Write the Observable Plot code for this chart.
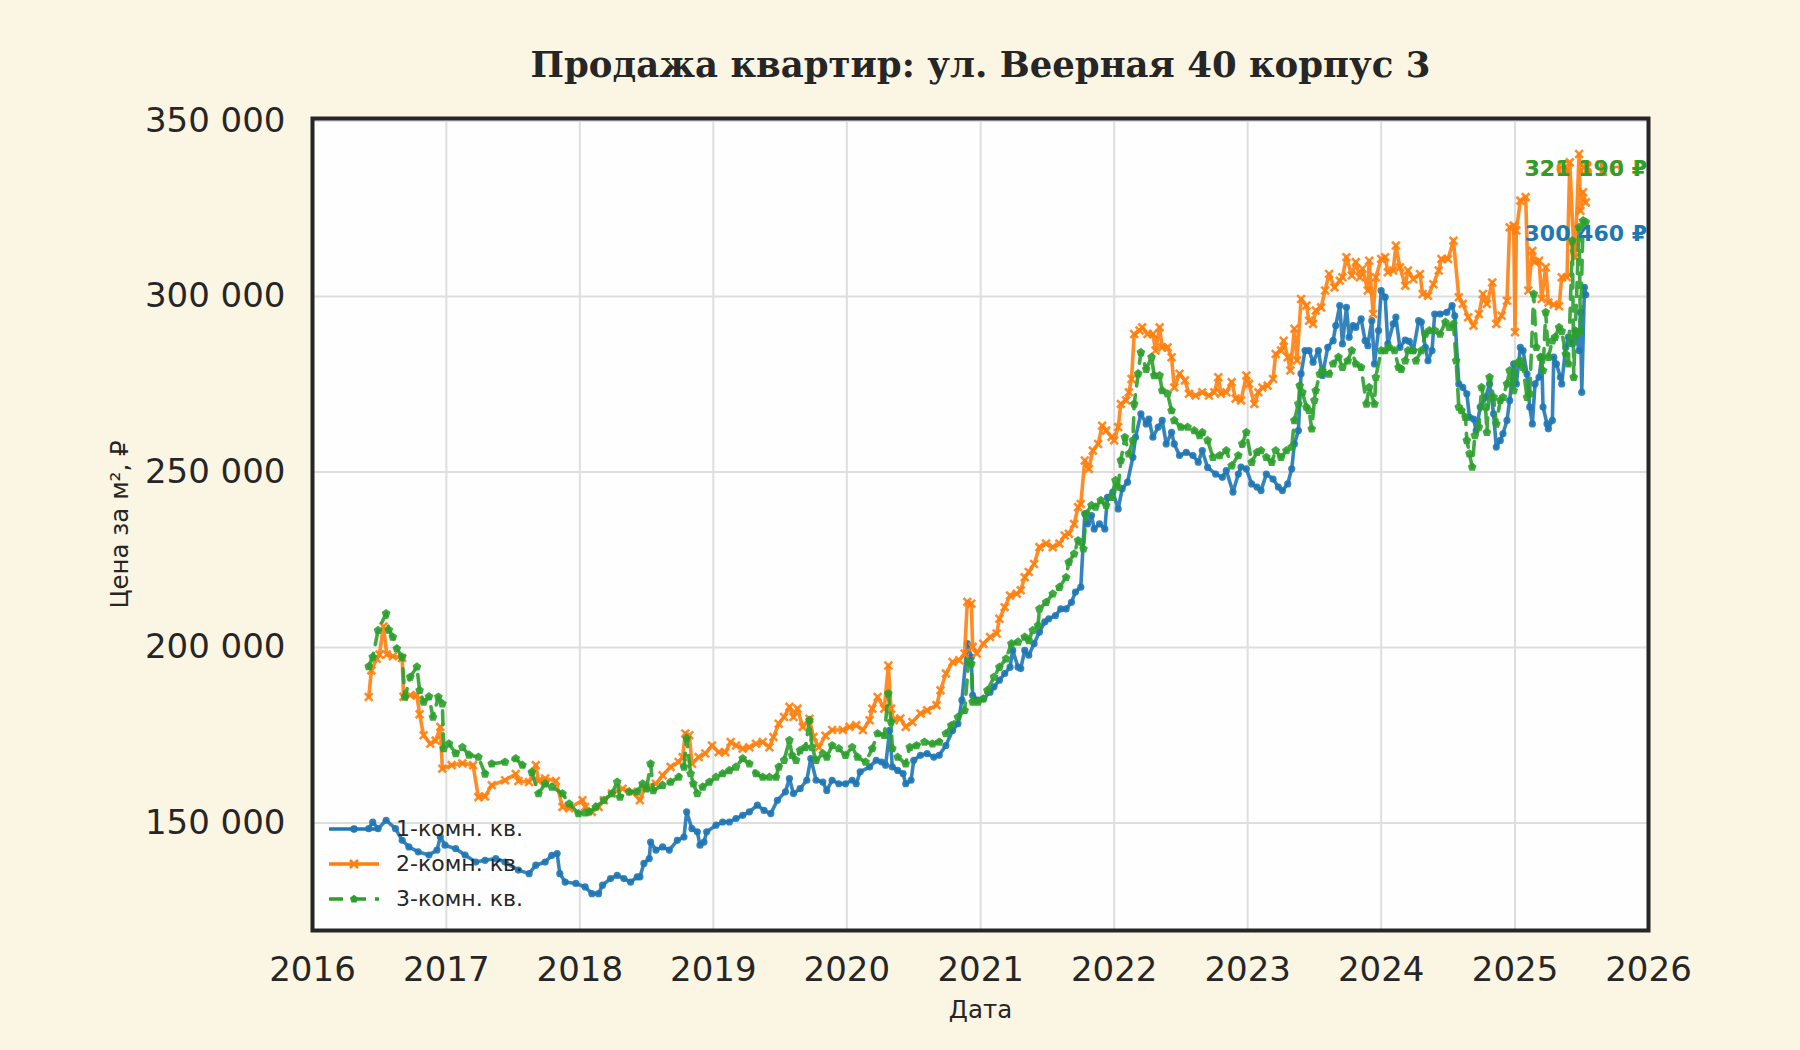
<!DOCTYPE html>
<html><head><meta charset="utf-8">
<script src="https://cdn.jsdelivr.net/npm/d3@7"></script>
<script src="https://cdn.jsdelivr.net/npm/@observablehq/plot@0.6"></script>
<style>
html,body{margin:0;padding:0;background:#fbf5e3;}
#wrap{position:relative;width:1800px;height:1050px;font-family:"DejaVu Sans",sans-serif;color:#262626;}
#legend{position:absolute;left:329px;top:811px;}
.row{display:flex;align-items:center;height:35px;}
.row span{font-size:22px;margin-left:17px;color:#262626;}
</style></head>
<body><div id="wrap"><div id="chart"></div><div id="legend"></div></div>
<script>
const title = "Продажа квартир: ул. Веерная 40 корпус 3";
const yLabel = "Цена за м², ₽";
const xLabel = "Дата";
const names = ["1-комн. кв.", "2-комн. кв.", "3-комн. кв."];
const colors = ["#1f77b4", "#ff7f0e", "#2ca02c"];
const xTicks = [2016,2017,2018,2019,2020,2021,2022,2023,2024,2025,2026];
const yTicks = [150000,200000,250000,300000,350000];
const labelY = [317800, 336300, 336300];

// [decimal year, price in thousand ₽]
const room1 = [[2016.42,148.4],[2016.45,150.3],[2016.49,148.4],[2016.55,150.8],[2016.62,148.4],[2016.67,145.1],[2016.72,143.2],[2016.79,141.8],[2016.87,140.9],[2016.93,142.3],[2016.955,146.1],[2016.99,143.7],[2017.07,142.7],[2017.14,140.9],[2017.22,138.9],[2017.29,139.4],[2017.37,139.9],[2017.44,138.9],[2017.54,136.6],[2017.62,135.6],[2017.67,138.0],[2017.74,138.9],[2017.79,140.8],[2017.83,141.3],[2017.85,135.6],[2017.89,133.2],[2017.97,132.8],[2018.04,131.8],[2018.09,129.9],[2018.14,129.9],[2018.17,132.3],[2018.23,134.2],[2018.28,135.1],[2018.33,134.2],[2018.38,133.2],[2018.43,134.7],[2018.45,134.7],[2018.48,138.5],[2018.52,139.9],[2018.53,144.6],[2018.57,142.3],[2018.62,143.2],[2018.67,142.3],[2018.73,145.1],[2018.78,146.0],[2018.80,153.2],[2018.84,148.4],[2018.88,147.5],[2018.90,143.7],[2018.93,144.6],[2018.95,147.5],[2019.02,149.4],[2019.07,150.3],[2019.12,150.3],[2019.17,151.3],[2019.22,152.2],[2019.27,153.2],[2019.33,155.1],[2019.38,153.6],[2019.43,152.7],[2019.48,156.5],[2019.54,158.9],[2019.57,162.7],[2019.60,158.4],[2019.65,159.8],[2019.70,162.2],[2019.73,168.4],[2019.77,162.2],[2019.82,161.7],[2019.85,159.3],[2019.89,162.2],[2019.94,161.2],[2019.99,161.2],[2020.04,162.2],[2020.07,161.2],[2020.10,164.6],[2020.17,166.0],[2020.22,167.9],[2020.26,167.4],[2020.29,166.5],[2020.32,176.4],[2020.34,166.0],[2020.38,165.0],[2020.42,164.1],[2020.44,161.2],[2020.48,162.2],[2020.50,167.9],[2020.55,169.3],[2020.60,169.8],[2020.65,168.8],[2020.69,169.3],[2020.74,172.1],[2020.79,176.4],[2020.83,178.3],[2020.86,185.0],[2020.90,201.1],[2020.93,197.3],[2020.94,186.4],[2020.98,185.0],[2021.02,185.4],[2021.07,187.3],[2021.10,188.8],[2021.14,190.7],[2021.18,192.6],[2021.22,194.4],[2021.24,199.2],[2021.28,194.4],[2021.30,194.0],[2021.33,199.2],[2021.36,197.8],[2021.40,201.1],[2021.44,204.4],[2021.48,207.3],[2021.51,208.2],[2021.56,209.1],[2021.60,211.0],[2021.64,211.0],[2021.68,212.9],[2021.71,215.8],[2021.75,217.2],[2021.78,238.1],[2021.80,235.2],[2021.83,237.6],[2021.85,233.8],[2021.89,235.2],[2021.93,233.8],[2021.95,242.8],[2021.99,244.3],[2022.03,239.5],[2022.06,245.2],[2022.10,247.1],[2022.14,254.2],[2022.16,259.9],[2022.20,266.6],[2022.24,263.7],[2022.26,265.1],[2022.29,259.9],[2022.33,262.8],[2022.36,264.7],[2022.39,258.0],[2022.43,261.3],[2022.45,258.0],[2022.49,254.7],[2022.54,255.6],[2022.59,254.7],[2022.63,252.8],[2022.66,256.1],[2022.70,251.3],[2022.76,249.4],[2022.81,248.5],[2022.84,250.4],[2022.89,244.3],[2022.93,249.4],[2022.95,251.4],[2022.99,250.9],[2023.03,246.6],[2023.07,245.7],[2023.10,244.7],[2023.14,249.4],[2023.19,248.0],[2023.23,245.7],[2023.26,244.7],[2023.30,246.6],[2023.33,250.9],[2023.35,258.0],[2023.38,261.8],[2023.40,278.0],[2023.43,284.6],[2023.46,284.6],[2023.49,281.3],[2023.53,284.6],[2023.56,277.5],[2023.60,285.5],[2023.64,287.4],[2023.66,291.7],[2023.69,297.4],[2023.71,286.5],[2023.74,296.9],[2023.76,288.4],[2023.79,291.7],[2023.81,291.2],[2023.85,293.6],[2023.88,287.4],[2023.90,286.0],[2023.93,293.1],[2023.95,280.8],[2023.98,290.3],[2024.00,301.7],[2024.03,299.8],[2024.05,286.5],[2024.09,292.2],[2024.11,294.1],[2024.14,285.5],[2024.18,287.6],[2024.21,287.2],[2024.24,284.6],[2024.28,293.1],[2024.30,292.7],[2024.33,285.5],[2024.35,281.7],[2024.38,284.6],[2024.40,295.0],[2024.44,295.0],[2024.49,295.5],[2024.53,297.4],[2024.55,294.5],[2024.58,275.1],[2024.61,274.1],[2024.64,272.3],[2024.66,265.6],[2024.69,265.1],[2024.71,261.8],[2024.74,268.5],[2024.78,271.3],[2024.81,275.1],[2024.84,266.6],[2024.86,257.1],[2024.89,259.0],[2024.91,260.9],[2024.94,264.7],[2024.96,270.4],[2024.99,280.8],[2025.01,275.1],[2025.04,285.5],[2025.06,284.6],[2025.09,277.9],[2025.11,268.5],[2025.13,263.7],[2025.15,275.1],[2025.18,277.0],[2025.20,282.7],[2025.21,268.5],[2025.24,263.7],[2025.25,262.3],[2025.28,264.7],[2025.29,282.7],[2025.31,280.8],[2025.34,277.0],[2025.35,275.1],[2025.38,285.5],[2025.40,288.4],[2025.43,286.5],[2025.45,290.3],[2025.48,284.6],[2025.49,295.5],[2025.50,272.7],[2025.52,302.6],[2025.53,300.46]];

const room2 = [[2016.42,185.9],[2016.44,193.5],[2016.48,196.8],[2016.50,198.0],[2016.53,206.0],[2016.555,198.0],[2016.60,197.5],[2016.67,197.0],[2016.68,186.0],[2016.73,186.4],[2016.78,186.4],[2016.80,181.0],[2016.83,175.0],[2016.88,172.6],[2016.92,173.5],[2016.955,177.4],[2016.97,165.5],[2017.04,166.5],[2017.12,167.0],[2017.20,166.5],[2017.24,157.4],[2017.29,157.6],[2017.34,160.8],[2017.44,162.2],[2017.52,164.0],[2017.54,162.0],[2017.62,161.7],[2017.67,166.5],[2017.69,162.0],[2017.74,162.7],[2017.82,162.0],[2017.87,154.6],[2017.92,154.2],[2018.02,156.5],[2018.04,154.6],[2018.09,153.2],[2018.14,154.6],[2018.18,156.5],[2018.24,158.4],[2018.32,159.8],[2018.39,158.9],[2018.45,156.5],[2018.49,160.3],[2018.57,161.2],[2018.62,163.6],[2018.68,166.0],[2018.74,167.4],[2018.77,168.8],[2018.79,175.5],[2018.82,175.0],[2018.84,166.9],[2018.89,168.8],[2018.94,169.8],[2018.99,172.1],[2019.04,170.2],[2019.09,170.2],[2019.13,173.1],[2019.17,172.1],[2019.22,171.2],[2019.27,171.6],[2019.32,172.6],[2019.37,173.1],[2019.42,171.6],[2019.45,174.5],[2019.49,178.3],[2019.53,180.2],[2019.57,183.1],[2019.60,180.2],[2019.63,182.6],[2019.67,177.4],[2019.72,179.7],[2019.75,174.5],[2019.79,171.6],[2019.84,174.9],[2019.89,176.5],[2019.97,176.5],[2020.02,177.4],[2020.07,177.9],[2020.12,176.5],[2020.17,179.3],[2020.19,182.6],[2020.23,185.9],[2020.28,182.6],[2020.31,194.9],[2020.33,182.6],[2020.35,179.3],[2020.40,179.8],[2020.44,177.4],[2020.49,178.8],[2020.55,181.2],[2020.60,182.1],[2020.67,183.6],[2020.70,187.8],[2020.74,192.6],[2020.79,195.9],[2020.84,196.4],[2020.88,198.3],[2020.90,213.0],[2020.93,212.5],[2020.94,200.2],[2020.97,198.3],[2021.02,201.1],[2021.07,203.0],[2021.12,204.0],[2021.14,208.2],[2021.18,211.5],[2021.22,214.8],[2021.27,215.3],[2021.30,216.3],[2021.33,220.0],[2021.36,221.5],[2021.40,223.8],[2021.44,228.6],[2021.49,229.6],[2021.54,228.6],[2021.59,229.6],[2021.63,231.9],[2021.66,232.4],[2021.70,235.2],[2021.73,240.0],[2021.75,240.9],[2021.78,253.3],[2021.81,250.9],[2021.84,256.1],[2021.88,258.0],[2021.91,263.2],[2021.94,261.8],[2021.98,260.0],[2022.00,259.0],[2022.03,262.8],[2022.05,269.4],[2022.09,270.4],[2022.11,272.7],[2022.13,276.5],[2022.15,289.3],[2022.19,290.3],[2022.21,291.2],[2022.25,289.3],[2022.29,289.3],[2022.31,284.6],[2022.34,291.2],[2022.36,285.5],[2022.40,285.5],[2022.43,282.7],[2022.45,274.1],[2022.49,278.0],[2022.53,276.1],[2022.56,272.3],[2022.61,271.8],[2022.66,272.7],[2022.71,271.8],[2022.75,272.7],[2022.78,277.0],[2022.80,272.3],[2022.84,272.7],[2022.88,275.6],[2022.91,270.9],[2022.95,270.4],[2022.99,277.5],[2023.01,275.1],[2023.05,269.4],[2023.08,272.7],[2023.11,274.1],[2023.15,274.6],[2023.19,276.5],[2023.21,283.6],[2023.25,284.6],[2023.27,287.4],[2023.30,282.7],[2023.32,278.9],[2023.35,290.8],[2023.37,281.8],[2023.40,299.3],[2023.44,297.4],[2023.46,293.1],[2023.49,292.2],[2023.51,296.0],[2023.55,296.9],[2023.58,301.7],[2023.61,306.4],[2023.65,302.6],[2023.69,304.5],[2023.71,305.5],[2023.74,311.2],[2023.78,306.0],[2023.81,309.8],[2023.84,305.5],[2023.86,307.9],[2023.90,301.7],[2023.91,310.2],[2023.94,295.0],[2023.96,305.5],[2024.00,310.7],[2024.03,311.2],[2024.05,306.9],[2024.09,307.4],[2024.11,314.5],[2024.14,308.3],[2024.18,303.1],[2024.20,307.4],[2024.24,305.0],[2024.29,306.4],[2024.31,300.7],[2024.35,300.2],[2024.39,303.5],[2024.43,307.4],[2024.45,310.7],[2024.50,310.7],[2024.54,315.9],[2024.58,299.8],[2024.61,297.9],[2024.65,294.1],[2024.69,291.7],[2024.73,295.0],[2024.76,300.7],[2024.79,297.9],[2024.83,304.0],[2024.86,292.2],[2024.90,294.5],[2024.94,298.8],[2024.96,319.7],[2024.99,320.2],[2025.00,289.8],[2025.01,318.8],[2025.04,327.3],[2025.08,328.3],[2025.10,301.7],[2025.13,313.0],[2025.15,309.8],[2025.18,310.2],[2025.20,299.3],[2025.23,308.3],[2025.25,298.3],[2025.29,297.7],[2025.33,297.2],[2025.35,305.5],[2025.39,305.5],[2025.41,338.2],[2025.44,313.9],[2025.45,311.1],[2025.48,340.6],[2025.49,324.4],[2025.51,329.7],[2025.53,326.816]];

const room3 = [[2016.42,194.6],[2016.45,197.3],[2016.49,204.9],[2016.55,209.7],[2016.57,205.0],[2016.60,203.0],[2016.63,199.7],[2016.67,197.3],[2016.69,185.9],[2016.73,191.6],[2016.78,194.5],[2016.80,187.8],[2016.83,184.5],[2016.87,186.0],[2016.90,180.2],[2016.94,185.9],[2016.97,184.0],[2016.98,171.2],[2017.02,172.6],[2017.07,169.8],[2017.12,171.6],[2017.17,169.4],[2017.24,168.8],[2017.29,164.0],[2017.34,166.9],[2017.44,167.4],[2017.52,168.4],[2017.57,166.5],[2017.64,164.5],[2017.69,158.4],[2017.74,161.2],[2017.79,160.3],[2017.87,158.4],[2017.92,155.5],[2017.99,152.7],[2018.04,152.9],[2018.07,153.2],[2018.12,154.6],[2018.18,156.5],[2018.24,158.4],[2018.28,161.7],[2018.30,157.4],[2018.37,158.9],[2018.43,158.9],[2018.47,161.2],[2018.50,159.8],[2018.53,166.9],[2018.55,159.3],[2018.62,160.8],[2018.68,161.7],[2018.74,163.1],[2018.78,166.0],[2018.80,174.1],[2018.83,164.1],[2018.85,161.2],[2018.88,158.4],[2018.92,160.3],[2018.97,161.7],[2019.02,163.1],[2019.07,164.1],[2019.12,165.0],[2019.17,166.0],[2019.22,168.4],[2019.27,166.9],[2019.32,164.1],[2019.37,163.1],[2019.42,163.1],[2019.47,163.1],[2019.49,166.0],[2019.53,167.9],[2019.57,173.6],[2019.59,169.3],[2019.62,167.9],[2019.65,170.7],[2019.69,171.6],[2019.72,179.3],[2019.74,171.6],[2019.77,167.9],[2019.82,169.8],[2019.85,168.8],[2019.89,172.1],[2019.94,171.2],[2019.99,169.3],[2020.04,171.6],[2020.08,168.8],[2020.14,167.4],[2020.19,171.2],[2020.23,175.5],[2020.28,175.0],[2020.31,186.9],[2020.33,178.8],[2020.34,171.2],[2020.38,168.8],[2020.44,166.9],[2020.47,171.6],[2020.52,172.1],[2020.58,173.1],[2020.64,172.6],[2020.69,173.1],[2020.74,175.5],[2020.78,177.8],[2020.83,180.2],[2020.88,182.1],[2020.91,195.9],[2020.93,195.4],[2020.94,184.5],[2020.98,184.5],[2021.02,185.4],[2021.05,187.8],[2021.10,191.6],[2021.14,194.4],[2021.19,196.8],[2021.23,201.1],[2021.28,201.6],[2021.33,203.0],[2021.36,202.0],[2021.39,204.9],[2021.43,206.3],[2021.44,211.0],[2021.49,212.9],[2021.54,215.3],[2021.59,217.2],[2021.64,220.0],[2021.66,224.3],[2021.70,226.7],[2021.73,230.5],[2021.77,228.1],[2021.79,238.1],[2021.83,240.5],[2021.86,240.0],[2021.90,241.9],[2021.94,240.5],[2021.98,242.8],[2022.01,247.6],[2022.03,245.7],[2022.05,253.3],[2022.08,259.9],[2022.11,255.2],[2022.14,259.0],[2022.15,269.4],[2022.18,278.0],[2022.20,284.1],[2022.24,279.3],[2022.28,282.7],[2022.30,277.5],[2022.34,277.5],[2022.36,273.2],[2022.40,272.3],[2022.43,267.5],[2022.45,264.7],[2022.50,262.8],[2022.55,262.8],[2022.60,261.8],[2022.64,260.4],[2022.66,261.3],[2022.70,259.0],[2022.74,254.2],[2022.79,254.7],[2022.84,256.1],[2022.88,251.8],[2022.93,254.7],[2022.96,258.0],[2022.99,261.3],[2023.03,252.8],[2023.07,255.6],[2023.10,256.1],[2023.14,254.2],[2023.18,252.8],[2023.21,256.1],[2023.25,254.2],[2023.29,256.1],[2023.33,257.1],[2023.35,264.7],[2023.38,269.4],[2023.39,274.6],[2023.41,272.7],[2023.44,268.5],[2023.46,267.5],[2023.48,262.3],[2023.50,270.4],[2023.51,273.2],[2023.54,277.9],[2023.56,278.9],[2023.61,277.9],[2023.64,280.8],[2023.68,282.7],[2023.71,279.8],[2023.75,281.7],[2023.78,284.6],[2023.81,280.8],[2023.85,279.8],[2023.89,269.4],[2023.91,274.1],[2023.95,269.4],[2023.96,277.0],[2024.00,284.6],[2024.03,284.6],[2024.06,285.5],[2024.10,284.6],[2024.13,279.8],[2024.15,279.3],[2024.18,281.7],[2024.20,284.6],[2024.24,284.6],[2024.26,281.7],[2024.30,284.6],[2024.33,289.3],[2024.36,290.3],[2024.40,290.3],[2024.44,289.3],[2024.48,292.7],[2024.51,291.2],[2024.54,292.2],[2024.56,281.7],[2024.58,268.5],[2024.60,267.5],[2024.63,265.6],[2024.64,259.0],[2024.66,255.2],[2024.68,251.4],[2024.70,260.4],[2024.73,262.8],[2024.75,274.1],[2024.78,268.5],[2024.79,261.3],[2024.81,277.0],[2024.84,271.3],[2024.86,263.7],[2024.89,270.4],[2024.91,271.3],[2024.94,275.1],[2024.96,278.9],[2024.99,273.2],[2025.01,280.8],[2025.04,281.7],[2025.06,279.8],[2025.09,271.3],[2025.11,272.3],[2025.14,300.7],[2025.16,285.5],[2025.19,282.7],[2025.21,278.9],[2025.23,295.5],[2025.25,282.7],[2025.28,287.4],[2025.30,288.4],[2025.33,291.2],[2025.35,290.1],[2025.38,283.6],[2025.40,280.8],[2025.43,315.9],[2025.44,277.0],[2025.45,288.6],[2025.48,319.7],[2025.49,290.1],[2025.51,321.6],[2025.53,321.19]];

function toDate(t) {
  const y = Math.floor(t);
  const a = Date.UTC(y, 0, 1), b = Date.UTC(y + 1, 0, 1);
  return new Date(a + (t - y) * (b - a));
}
const fmt = d => d3.format(",")(d).replace(/,/g, " ");

const pentagon = {
  draw(ctx, size) {
    const R = Math.sqrt(size / 2.3776);
    for (let i = 0; i < 5; i++) {
      const a = -Math.PI / 2 + i * 2 * Math.PI / 5;
      const x = R * Math.cos(a), y = R * Math.sin(a);
      if (i) ctx.lineTo(x, y); else ctx.moveTo(x, y);
    }
    ctx.closePath();
  }
};

const raw = [room1, room2, room3];
const series = raw.map(arr => arr.map(([t, v]) => ({date: toDate(t), value: Math.round(v * 1000)})));
const dashes = [null, null, "14,9"];

const marks = [
  Plot.frame({fill: "#fefefe"}),
  Plot.gridX(xTicks.map(toDate), {stroke: "#dedede", strokeOpacity: 1, strokeWidth: 2}),
  Plot.gridY(yTicks, {stroke: "#dedede", strokeOpacity: 1, strokeWidth: 2}),
  Plot.axisX(xTicks.map(toDate), {tickSize: 0, tickPadding: 26, tickFormat: d3.utcFormat("%Y"), label: null, fontSize: 34}),
  Plot.axisY(yTicks, {tickSize: 0, tickPadding: 27, tickFormat: fmt, label: null, fontSize: 34})
];
series.forEach((data, i) => {
  marks.push(Plot.line(data, {x: "date", y: "value", stroke: colors[i], strokeWidth: 3.6, strokeOpacity: 0.9,
    strokeDasharray: dashes[i] || undefined, strokeLinejoin: "round"}));
  if (i === 0) marks.push(Plot.dot(data, {x: "date", y: "value", r: 3.6, fill: colors[i], fillOpacity: 0.9, stroke: "none"}));
  if (i === 1) marks.push(Plot.dot(data, {x: "date", y: "value", r: 3.6, symbol: "times", stroke: colors[i], strokeWidth: 2.6, strokeOpacity: 0.9}));
  if (i === 2) marks.push(Plot.dot(data, {x: "date", y: "value", r: 4, symbol: pentagon, fill: colors[i], fillOpacity: 0.9, stroke: "none"}));
});
series.forEach((data, i) => {
  const last = data[data.length - 1];
  marks.push(Plot.text([last], {x: "date", y: () => labelY[i], text: d => fmt(d.value) + " ₽",
    fill: colors[i], fontWeight: "bold", fontSize: 22, textAnchor: "middle", lineAnchor: "middle"}));
});
marks.push(
  Plot.frame({stroke: "#262626", strokeWidth: 4}),
  Plot.text([title], {frameAnchor: "top", dy: -53, fontSize: 35.5, fontWeight: "bold", fontFamily: "DejaVu Serif", fill: "#262626", textAnchor: "middle", lineAnchor: "middle"}),
  Plot.text([yLabel], {frameAnchor: "left", dx: -192, rotate: -90, fontSize: 24.5, fill: "#262626", textAnchor: "middle", lineAnchor: "middle"}),
  Plot.text([xLabel], {frameAnchor: "bottom", dy: 80, fontSize: 24.5, fill: "#262626", textAnchor: "middle", lineAnchor: "middle"})
);

const chart = Plot.plot({
  width: 1800, height: 1050,
  marginLeft: 312, marginRight: 152, marginTop: 118, marginBottom: 120,
  style: {background: "transparent", fontFamily: "DejaVu Sans", fontSize: "34px", color: "#262626"},
  x: {type: "utc", domain: [toDate(2016), toDate(2026)]},
  y: {domain: [119400, 350700]},
  marks
});
document.getElementById("chart").appendChild(chart);

// legend
const leg = document.getElementById("legend");
const markerSvg = [
  c => `<circle cx="25" cy="10" r="3.8" fill="${c}"/>`,
  c => `<path d="M21 6 L29 14 M29 6 L21 14" stroke="${c}" stroke-width="2.6"/>`,
  c => { const R = 4.3; let p = ""; for (let i = 0; i < 5; i++) { const a = -Math.PI/2 + i*2*Math.PI/5; p += (i ? "L" : "M") + (25 + R*Math.cos(a)).toFixed(2) + " " + (10 + R*Math.sin(a)).toFixed(2); } return `<path d="${p}Z" fill="${c}"/>`; }
];
names.forEach((n, i) => {
  const row = document.createElement("div");
  row.className = "row";
  row.innerHTML = `<svg width="50" height="20"><line x1="0" x2="50" y1="10" y2="10" stroke="${colors[i]}" stroke-width="3.5" ${dashes[i] ? `stroke-dasharray="${dashes[i]}"` : ""}/>${markerSvg[i](colors[i])}</svg><span>${n}</span>`;
  leg.appendChild(row);
});
</script>
</body></html>
